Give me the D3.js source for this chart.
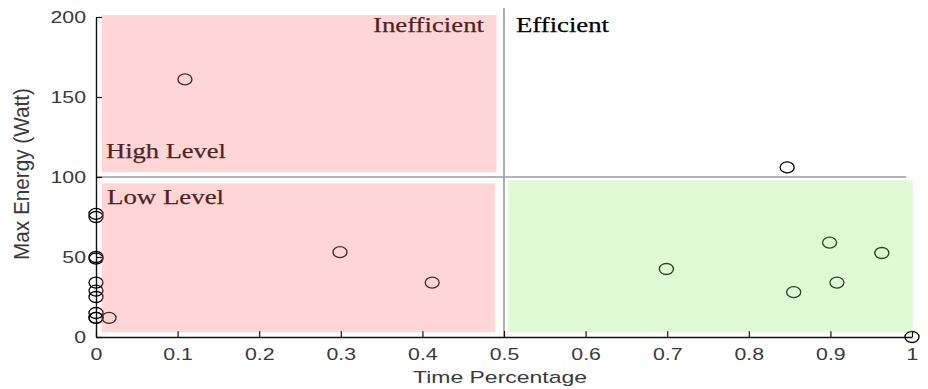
<!DOCTYPE html>
<html>
<head>
<meta charset="utf-8">
<script src="https://cdn.jsdelivr.net/npm/d3@7"></script>
<style>
  html, body { margin: 0; padding: 0; background: #fff; }
  svg { display: block; }
</style>
</head>
<body>
<svg id="chart" width="928" height="389"></svg>
<script>
// Measured points: time share vs. peak power draw
const timePct   = [0.109, 0.299, 0.412, 0.016, 0, 0, 0, 0, 0, 0, 0, 0, 0, 0,
                   0.699, 0.855, 0.899, 0.908, 0.963, 1, 0.847];
const maxEnergy = [161, 53, 34, 12, 77, 75, 50, 49, 34, 29, 25, 15, 12, 12,
                   42.5, 28, 59, 34, 52.5, 0, 106];

// Axis ticks
const xTicks = [0, 0.1, 0.2, 0.3, 0.4, 0.5, 0.6, 0.7, 0.8, 0.9, 1];
const yTicks = [0, 50, 100, 150, 200];

// Shaded zones (data units)
const zoneNames = ["highIneff", "lowIneff", "lowEff"];
const zoneX0 = [0.007, 0.007, 0.505];
const zoneX1 = [0.491, 0.489, 1.001];
const zoneY0 = [103, 3, 3];
const zoneY1 = [201.2, 96, 98];

// Threshold lines
const energyThreshold = 100;
const timeThreshold = 0.5;

const zoneFill = { highIneff: "rgb(255,118,118)", lowIneff: "rgb(255,118,118)", lowEff: "rgb(144,238,109)" };
const zoneOpacity = { highIneff: 0.3, lowIneff: 0.3, lowEff: 0.28 };

const svg = d3.select("#chart");
const x = d3.scaleLinear().domain([0, 1]).range([96, 912]);
const y = d3.scaleLinear().domain([0, 200]).range([337, 17]);
const stretch = 1.29;

// Threshold guides
svg.append("line")
  .attr("x1", x(0)).attr("x2", x(0.993))
  .attr("y1", y(energyThreshold)).attr("y2", y(energyThreshold))
  .attr("stroke", "#9a9a9a").attr("stroke-width", 1.6);
svg.append("line")
  .attr("x1", x(timeThreshold)).attr("x2", x(timeThreshold))
  .attr("y1", y(205.6)).attr("y2", y(0))
  .attr("stroke", "#9a9a9a").attr("stroke-width", 1.6);

// Axes (ticks point inward)
const xAxis = svg.append("g")
  .attr("transform", `translate(0,${y(0)})`)
  .call(d3.axisBottom(x).tickValues(xTicks).tickFormat(d3.format("~g"))
        .tickSize(-6).tickSizeOuter(0).tickPadding(11));
const yAxis = svg.append("g")
  .attr("transform", `translate(${x(0)},0)`)
  .call(d3.axisLeft(y).tickValues(yTicks).tickFormat(d3.format("~g"))
        .tickSize(-6).tickSizeOuter(0).tickPadding(10));

[xAxis, yAxis].forEach(g => {
  g.select(".domain").attr("stroke", "#111").attr("stroke-width", 1.4);
  g.selectAll(".tick line").attr("stroke", "#111").attr("stroke-width", 1.2);
  g.selectAll(".tick text")
    .attr("fill", "#3a3a3a")
    .style("font-family", "'Liberation Sans', Arial, sans-serif")
    .style("font-size", "16.5px");
});
xAxis.selectAll(".tick text").attr("transform", `scale(${stretch},1)`);
yAxis.selectAll(".tick text")
  .attr("x", -10 / stretch)
  .attr("transform", `scale(${stretch},1)`);

// Axis titles
svg.append("text")
  .attr("x", 500).attr("y", 383)
  .attr("text-anchor", "middle")
  .attr("textLength", 174).attr("lengthAdjust", "spacingAndGlyphs")
  .attr("fill", "#3a3a3a")
  .style("font-family", "'Liberation Sans', Arial, sans-serif")
  .style("font-size", "17px")
  .text("Time Percentage");
svg.append("text")
  .attr("transform", `translate(29,174) scale(${stretch},1) rotate(-90)`)
  .attr("text-anchor", "middle")
  .attr("textLength", 172).attr("lengthAdjust", "spacingAndGlyphs")
  .attr("fill", "#3a3a3a")
  .style("font-family", "'Liberation Sans', Arial, sans-serif")
  .style("font-size", "16.5px")
  .text("Max Energy (Watt)");

// Zone captions
const serif = "'Liberation Serif', 'Times New Roman', serif";
const captions = [
  { t: "Inefficient", x: 484, y: 32, w: 111, anchor: "end" },
  { t: "Efficient",   x: 516, y: 32, w: 93,  anchor: "start" },
  { t: "High Level",  x: 106, y: 158, w: 120, anchor: "start" },
  { t: "Low Level",   x: 107, y: 204, w: 117, anchor: "start" }
];
svg.selectAll("text.caption").data(captions).join("text")
  .attr("class", "caption")
  .attr("x", d => d.x).attr("y", d => d.y)
  .attr("text-anchor", d => d.anchor)
  .attr("textLength", d => d.w).attr("lengthAdjust", "spacingAndGlyphs")
  .attr("fill", "#000")
  .attr("stroke", "#000").attr("stroke-width", 0.25)
  .style("font-family", serif)
  .style("font-size", "21px")
  .text(d => d.t);

// Markers
const pts = timePct.map((t, i) => ({ t, e: maxEnergy[i] }));
svg.append("g").selectAll("ellipse").data(pts).join("ellipse")
  .attr("cx", d => x(d.t)).attr("cy", d => y(d.e))
  .attr("rx", 7).attr("ry", 5.5)
  .attr("fill", "none")
  .attr("stroke", "#000")
  .attr("stroke-width", 1.3);

// Translucent zone overlays, drawn on top so marks beneath take the tint
const zones = zoneNames.map((n, i) => ({ n, x0: zoneX0[i], x1: zoneX1[i], y0: zoneY0[i], y1: zoneY1[i] }));
svg.append("g").selectAll("rect").data(zones).join("rect")
  .attr("x", d => x(d.x0)).attr("width", d => x(d.x1) - x(d.x0))
  .attr("y", d => y(d.y1)).attr("height", d => y(d.y0) - y(d.y1))
  .attr("fill", d => zoneFill[d.n])
  .attr("fill-opacity", d => zoneOpacity[d.n]);
</script>
</body>
</html>
